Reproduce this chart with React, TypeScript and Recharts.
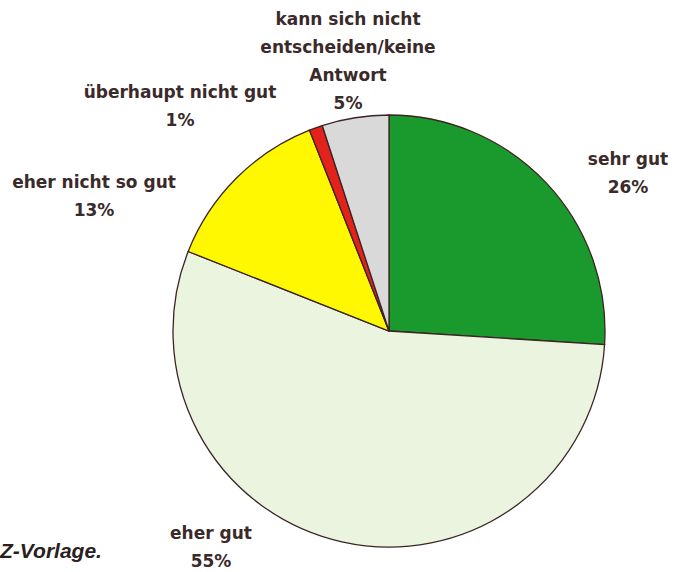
import { PieChart, Pie, Cell } from 'recharts'

const CATEGORIES = [
  'sehr gut',
  'eher gut',
  'eher nicht so gut',
  'überhaupt nicht gut',
  'kann sich nicht\nentscheiden/keine\nAntwort',
]
const SHARES = [26, 55, 13, 1, 5]
const COLORS = ['#1a9a2c', '#eaf4df', '#fff800', '#e3221c', '#d9d9d9']

// label anchor (first line baseline, centred) relative to pie centre
const LABEL_DX = [239, -178, -295, -209, -41]
const LABEL_DY = [-166, 208, -143, -233, -306]
const LINE_H = 28

const data = CATEGORIES.map((name, i) => ({ name, value: SHARES[i] }))

const textColor = '#3a2a2a'

function renderLabel(props: any) {
  const { cx, cy, index } = props
  const lines = [...CATEGORIES[index].split('\n'), `${SHARES[index]}%`]
  const x = cx + LABEL_DX[index]
  const y = cy + LABEL_DY[index]
  return (
    <text
      key={`lbl-${index}`}
      x={x}
      y={y}
      textAnchor="middle"
      fill={textColor}
      style={{ fontFamily: '"DejaVu Sans", sans-serif', fontWeight: 700, fontSize: 17 }}
    >
      {lines.map((line, j) => (
        <tspan key={j} x={x} y={y + j * LINE_H}>
          {line}
        </tspan>
      ))}
    </text>
  )
}

export default function App() {
  return (
    <div style={{ position: 'relative', width: 680, height: 572, background: '#fff', overflow: 'hidden' }}>
      <style>{'body { margin: 0; }'}</style>
      <PieChart width={680} height={572} margin={{ top: 0, right: 0, bottom: 0, left: 0 }}>
        <Pie
          data={data}
          dataKey="value"
          nameKey="name"
          cx={389}
          cy={331}
          outerRadius={216}
          startAngle={90}
          endAngle={-270}
          stroke="#3b2424"
          strokeWidth={1.3}
          label={renderLabel}
          labelLine={false}
          isAnimationActive={false}
        >
          {data.map((d, i) => (
            <Cell key={d.name} fill={COLORS[i]} />
          ))}
        </Pie>
      </PieChart>
      <div
        style={{
          position: 'absolute',
          left: 0,
          top: 538,
          fontFamily: '"Liberation Sans", Arial, sans-serif',
          fontWeight: 700,
          fontStyle: 'italic',
          fontSize: 21,
          color: '#2a2020',
          lineHeight: '25px',
          whiteSpace: 'nowrap',
        }}
      >
        Z-Vorlage.
      </div>
    </div>
  )
}
